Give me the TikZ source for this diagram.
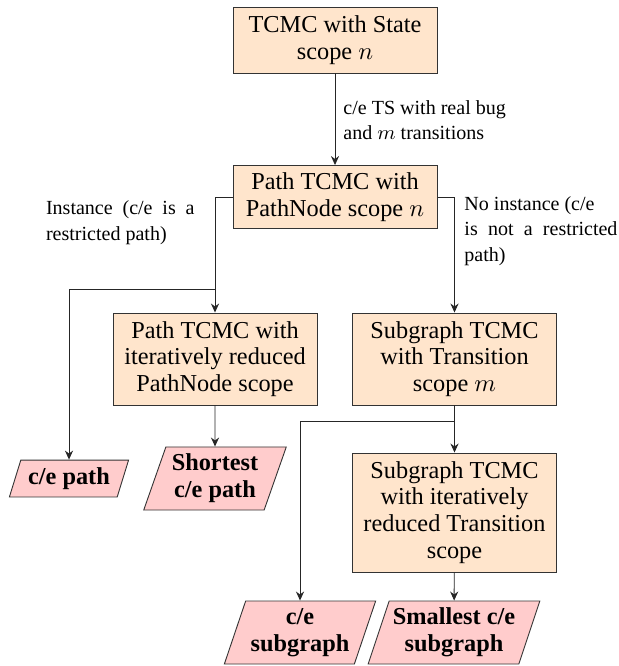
\documentclass[tikz,border=0pt]{standalone}
\usepackage{fontspec}
\setmainfont{Liberation Serif}
\usetikzlibrary{shapes.geometric,arrows.meta}
\begin{document}
\begin{tikzpicture}[x=0.4444pt,y=-0.4444pt,
  proc/.style={draw=black!80, fill=orange!20, align=flush center, text width=86pt,
    minimum width=90.7pt, inner sep=2pt, font=\fontsize{10.8}{11.9}\selectfont},
  outp/.style={draw=black!80, fill=red!20, trapezium, trapezium left angle=69,
    trapezium right angle=111, trapezium stretches=true, align=center,
    inner sep=1pt, font=\fontsize{10.8}{11.9}\selectfont\bfseries},
  lbl/.style={inner sep=0pt, font=\fontsize{8.9}{11.4}\selectfont},
  arr/.style={draw=black!85, -{Stealth[length=4pt,width=3.6pt,inset=1.3pt]}},
  ln/.style={draw=black!85}]
\useasboundingbox (0,0) rectangle (618,666);

\node[proc, minimum height=29.3pt] (b1) at (335,40) {TCMC with State\\scope $n$};
\node[proc, minimum height=28pt] (b2) at (335,197) {Path TCMC with\\PathNode scope $n$};
\node[proc, minimum height=40.9pt] (b3) at (215,359) {Path TCMC with\\iteratively reduced\\PathNode scope};
\node[proc, minimum height=40.9pt] (b4) at (454.5,359) {Subgraph TCMC\\with Transition\\scope $m$};
\node[proc, minimum height=52.9pt] (b5) at (454.5,512.5) {Subgraph TCMC\\with iteratively\\reduced Transition\\scope};

\node[outp, minimum width=53pt, minimum height=16.4pt] (o1) at (69,478.5) {c/e path};
\node[outp, minimum width=63.6pt, minimum height=28pt] (o2) at (215,478.5) {Shortest\\c/e path};
\node[outp, minimum width=67.6pt, minimum height=28pt] (o3) at (300,632.5) {c/e\\subgraph};
\node[outp, minimum width=76.4pt, minimum height=28pt] (o4) at (454,632.5) {Smallest c/e\\subgraph};

\node[lbl, anchor=west, align=left] (l1) at (343,120) {c/e TS with real bug\\and $m$ transitions};
\node[lbl, anchor=east, text width=66pt, align=justify] (l2) at (195,223) {Instance (c/e is a\linebreak restricted path)};
\node[lbl, anchor=west, text width=68pt, align=justify] (l3) at (464,231) {No instance (c/e\\is not a restricted\linebreak path)};

\coordinate (j1) at (215,289);
\coordinate (j2) at (454.5,421);

\draw[arr] (b1) -- (b2);
\draw[arr] (b2.west) -| (b3.north);
\draw[arr] (j1) -| (o1.north);
\draw[arr] (b2.east) -| (b4.north);
\draw[arr] (b3) -- (o2);
\draw[arr] (b4) -- (b5);
\draw[arr] (j2) -| (o3.north);
\draw[arr] (b5) -- (o4);
\end{tikzpicture}
\end{document}
